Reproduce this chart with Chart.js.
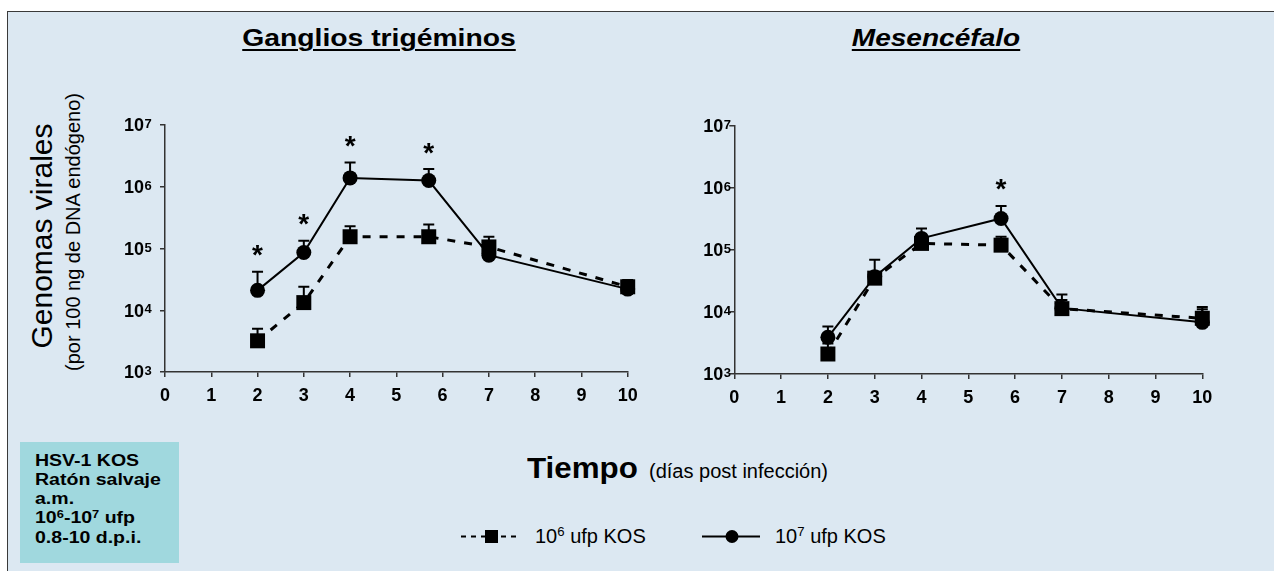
<!DOCTYPE html>
<html lang="es">
<head>
<meta charset="utf-8">
<title>Genomas virales HSV-1 KOS</title>
<script src="https://cdn.jsdelivr.net/npm/chart.js@4.4.1/dist/chart.umd.min.js"></script>
<style>
  html, body { margin: 0; padding: 0; background: #ffffff; }
  body { width: 1274px; height: 571px; position: relative; overflow: hidden;
         font-family: "Liberation Sans", Arial, sans-serif; color: #000; }
  #panel { position: absolute; left: 7px; top: 11px; width: 1267px; height: 560px;
           box-sizing: border-box; background: #dce8f2;
           border-top: 1.5px solid #3a3a3a; border-left: 1.5px solid #3a3a3a; }
  .abs { position: absolute; white-space: nowrap; line-height: 1; }
  .title { font-size: 23px; font-weight: bold; text-decoration: underline;
           text-decoration-thickness: 2px; text-underline-offset: 3px; }
  canvas { position: absolute; }
  .sup { font-size: 0.66em; position: relative; top: -0.48em; line-height: 0; }
  #info { position: absolute; left: 20px; top: 442px; width: 159px; height: 121px;
          background: #a0d8de; }
  #info .txt { position: absolute; left: 15px; top: 8.5px; font-size: 16px; font-weight: bold;
               line-height: 19.3px; transform: scaleX(1.22); transform-origin: 0 0; white-space: nowrap; }
</style>
</head>
<body>
<div id="panel"></div>

<div class="abs title" style="left:379px; top:27px; transform: translateX(-50%) scaleX(1.23);">Ganglios trigéminos</div>
<div class="abs title" style="left:936px; top:27px; font-style: italic; transform: translateX(-50%) scaleX(1.22);">Mesencéfalo</div>

<div class="abs" style="left:0; top:0; font-size:30px; transform: translate(41.6px, 236px) translate(-50%, -50%) rotate(-90deg);">Genomas virales</div>
<div class="abs" style="left:0; top:0; font-size:20px; transform: translate(73px, 232px) translate(-50%, -50%) rotate(-90deg);">(por 100 ng de DNA endógeno)</div>

<canvas id="gt" width="560" height="319" style="left:100px; top:95px;"></canvas>
<canvas id="mes" width="590" height="321" style="left:670px; top:95px;"></canvas>

<div class="abs" style="left:527px; top:453.5px; font-size:29px; font-weight:bold; transform: scaleX(1.08); transform-origin: 0 0;">Tiempo</div>
<div class="abs" style="left:649px; top:461px; font-size:20px;">(días post infección)</div>

<svg style="position:absolute; left:456px; top:526px;" width="70" height="21">
  <line x1="5" y1="10.5" x2="65" y2="10.5" stroke="#000" stroke-width="2" stroke-dasharray="5 5"/>
  <rect x="29" y="4" width="13" height="13" fill="#000"/>
</svg>
<div class="abs" style="left:535px; top:525.5px; font-size:20px;">10<span class="sup">6</span> ufp KOS</div>

<svg style="position:absolute; left:700px; top:526px;" width="64" height="21">
  <line x1="2" y1="10.5" x2="60" y2="10.5" stroke="#000" stroke-width="2"/>
  <circle cx="32" cy="10.5" r="6.5" fill="#000"/>
</svg>
<div class="abs" style="left:775px; top:525.5px; font-size:20px;">10<span class="sup">7</span> ufp KOS</div>

<div id="info"><div class="txt">HSV-1 KOS<br>Ratón salvaje<br>a.m.<br>10<span class="sup">6</span>-10<span class="sup">7</span> ufp<br>0.8-10 d.p.i.</div></div>

<script>
// Sampling days (days post infection) shared by both panels
const days = [2, 3, 4, 5.7, 7, 10];
const dayTicks = [0, 1, 2, 3, 4, 5, 6, 7, 8, 9, 10];
const decadeTicks = [1e3, 1e4, 1e5, 1e6, 1e7];

// Ganglios trigéminos: mean viral genomes and upper error limit
const tgLow      = [3.2e3, 1.33e4, 1.55e5, 1.55e5, 1.06e5, 2.4e4];
const tgLowTop   = [5.0e3, 2.4e4, 2.3e5, 2.45e5, 1.55e5, 3.1e4];
const tgHigh     = [2.1e4, 8.6e4, 1.39e6, 1.26e6, 7.8e4, 2.2e4];
const tgHighTop  = [4.2e4, 1.33e5, 2.48e6, 1.93e6, 9.5e4, 2.7e4];
const tgStars    = [true, true, true, true, false, false];

// Mesencéfalo
const mesLow     = [2.1e3, 3.5e4, 1.27e5, 1.19e5, 1.13e4, 7.9e3];
const mesLowTop  = [3.1e3, 4.4e4, 1.5e5, 1.63e5, 1.55e4, 1.1e4];
const mesHigh    = [3.9e3, 3.7e4, 1.53e5, 3.2e5, 1.15e4, 6.8e3];
const mesHighTop = [5.8e3, 6.9e4, 2.2e5, 5.1e5, 1.9e4, 1.2e4];
const mesStars   = [false, false, false, true, false, false];

const FONT = '"Liberation Sans", Arial, sans-serif';
const AXIS = '#333333';

// Upper error bars, significance asterisks and 10^n axis labels
const marksPlugin = {
  id: 'marks',
  beforeDatasetsDraw(chart, args, opts) {
    const { ctx, scales: { x, y } } = chart;
    ctx.save();
    ctx.strokeStyle = '#000';
    ctx.lineWidth = 2;
    opts.errors.forEach(err => {
      err.values.forEach((v, i) => {
        const px = x.getPixelForValue(days[i]);
        const y0 = y.getPixelForValue(v);
        const y1 = y.getPixelForValue(err.tops[i]);
        ctx.beginPath();
        ctx.moveTo(px, y0);
        ctx.lineTo(px, y1);
        ctx.moveTo(px - 5.5, y1);
        ctx.lineTo(px + 5.5, y1);
        ctx.stroke();
      });
    });
    ctx.restore();
  },
  afterDraw(chart, args, opts) {
    const { ctx, chartArea, scales: { x, y } } = chart;
    ctx.save();
    ctx.fillStyle = '#000';
    // asterisks above the higher-dose error bars
    ctx.font = 'bold 28px ' + FONT;
    ctx.textAlign = 'center';
    ctx.textBaseline = 'alphabetic';
    const m = ctx.measureText('*');
    const shift = (m.actualBoundingBoxAscent - m.actualBoundingBoxDescent) / 2;
    opts.stars.forEach((s, i) => {
      if (!s) return;
      const px = x.getPixelForValue(days[i]);
      const cy = y.getPixelForValue(opts.starTops[i]) - 21;
      ctx.fillText('*', px, cy + shift);
    });
    // decade labels on the log axis
    const axisX = chartArea.left;
    decadeTicks.forEach(v => {
      const py = y.getPixelForValue(v);
      const exp = String(Math.round(Math.log10(v)));
      ctx.font = 'bold 18px ' + FONT;
      ctx.textAlign = 'right';
      ctx.fillText('10', axisX - opts.labelGap, py + 6.4);
      ctx.font = 'bold 13px ' + FONT;
      ctx.textAlign = 'left';
      ctx.fillText(exp, axisX - opts.labelGap + 0.5, py + 3.0);
    });
    ctx.restore();
  }
};

function buildChart(id, low, lowTop, high, highTop, stars, geom) {
  return new Chart(document.getElementById(id), {
    type: 'line',
    data: {
      datasets: [
        {
          label: '10⁶ ufp KOS',
          data: days.map((d, i) => ({ x: d, y: low[i] })),
          borderColor: '#000', backgroundColor: '#000',
          borderWidth: 3, borderDash: [8, 9],
          pointStyle: 'rect', pointRadius: 10.6, pointBorderWidth: 0,
          tension: 0, clip: false
        },
        {
          label: '10⁷ ufp KOS',
          data: days.map((d, i) => ({ x: d, y: high[i] })),
          borderColor: '#000', backgroundColor: '#000',
          borderWidth: 2,
          pointStyle: 'circle', pointRadius: 7.5, pointBorderWidth: 0,
          tension: 0, clip: false
        }
      ]
    },
    options: {
      responsive: false,
      animation: false,
      events: [],
      layout: { padding: { left: 0, top: geom.padTop, right: geom.padRight, bottom: 0 } },
      plugins: {
        legend: { display: false },
        tooltip: { enabled: false },
        marks: {
          errors: [ { values: low, tops: lowTop }, { values: high, tops: highTop } ],
          stars: stars,
          starTops: highTop,
          labelGap: geom.labelGap
        }
      },
      scales: {
        x: {
          type: 'linear', min: 0, max: 10,
          afterBuildTicks: s => { s.ticks = dayTicks.map(v => ({ value: v })); },
          afterFit: s => { s.height = 42; },
          border: { display: true, color: AXIS, width: 1.5 },
          grid: { drawOnChartArea: false, drawTicks: true, tickLength: 5, color: AXIS, lineWidth: 1.5 },
          ticks: { font: { family: FONT, size: 18, weight: 'bold' }, color: '#000',
                   padding: 8, maxRotation: 0, autoSkip: false }
        },
        y: {
          type: 'logarithmic', min: 1e3, max: 1e7,
          afterBuildTicks: s => { s.ticks = decadeTicks.map(v => ({ value: v })); },
          afterFit: s => { s.width = geom.yWidth; },
          border: { display: true, color: AXIS, width: 1.5 },
          grid: { drawOnChartArea: false, drawTicks: true, tickLength: 5, color: AXIS, lineWidth: 1.5 },
          ticks: { display: false }
        }
      }
    },
    plugins: [marksPlugin]
  });
}

buildChart('gt', tgLow, tgLowTop, tgHigh, tgHighTop, tgStars,
           { yWidth: 65, padTop: 30, padRight: 32.3, labelGap: 21 });
buildChart('mes', mesLow, mesLowTop, mesHigh, mesHighTop, mesStars,
           { yWidth: 64.3, padTop: 30.7, padRight: 57.7, labelGap: 11 });
</script>
</body>
</html>
